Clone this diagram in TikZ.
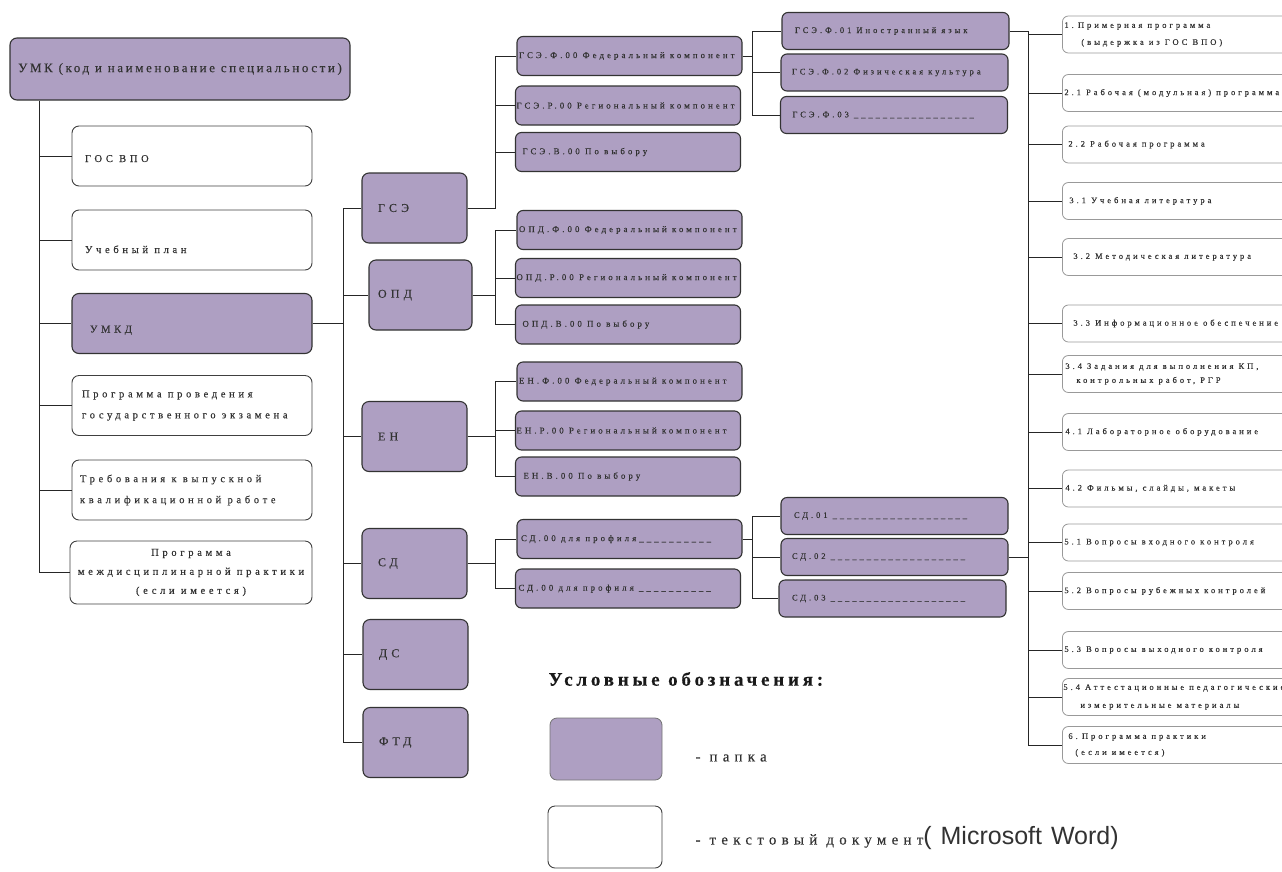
\documentclass[tikz,border=0pt]{standalone}
\usepackage{fontspec}
\setmainfont{Liberation Serif}
\newfontfamily\spaced{Liberation Serif}[LetterSpace=35,FakeBold=0.3]
\newfontfamily\spacedumk{Liberation Serif}[LetterSpace=20,FakeBold=0.3]
\newfontfamily\wordfont{Liberation Sans}
\usetikzlibrary{positioning,backgrounds}
\definecolor{papka}{RGB}{174,159,194}
\definecolor{ink}{RGB}{50,50,50}
\newcommand{\fsz}[2]{\fontsize{#1}{#2}\selectfont}

\begin{document}
\begin{tikzpicture}[x=1pt,y=-1pt]
\tikzstyle{every node}=[text=ink, inner ysep=0pt, execute at begin node={\spaceskip=\fontdimen2\font\relax}]
\tikzstyle{folder}=[draw=black!80, fill=papka, line width=1.1pt, rounded corners=7pt]
\tikzstyle{doc}=[draw=black!75, fill=white, line width=0.9pt, rounded corners=7pt]
\tikzstyle{link}=[draw=black!85, line width=1pt]
\tikzstyle{lbox}=[minimum height=60, text width=214, inner xsep=13, align=left, font=\spaced\fsz{10.5}{21}]
\tikzstyle{mbox}=[folder, minimum height=70, text width=73, inner xsep=16, align=left, font=\spaced\fsz{12}{14}]
\tikzstyle{sbox}=[folder, rounded corners=6pt, minimum height=39, text width=223, inner xsep=1, align=left, font=\spaced\fsz{8.8}{10}]
\tikzstyle{tbox}=[folder, rounded corners=6pt, minimum height=37, text width=201, inner xsep=13, align=left, font=\spaced\fsz{8.5}{10}]
\tikzstyle{rdoc}=[draw=black!40, line width=0.8pt, rounded corners=6pt, anchor=west, minimum height=37, text width=250, inner xsep=2, align=left, font=\spaced\fsz{8.5}{16}]
\useasboundingbox (0,0) rectangle (1282,871);
\clip (0,0) rectangle (1282,871);

% left column
\node[folder, minimum width=340, minimum height=62, font=\spacedumk\fsz{13}{15}] (umk) at (180,69) {УМК (код и наименование специальности)};
\node[doc, lbox] (gos) at (192,156) {\raisebox{-6pt}[0pt][0pt]{ГОС ВПО}};
\node[doc, lbox] (plan) at (192,240) {\raisebox{-13pt}[0pt][0pt]{Учебный план}};
\node[folder, lbox, inner xsep=18, text width=204] (umkd) at (192,323.5) {\raisebox{-9pt}[0pt][0pt]{УМКД}};
\node[doc, lbox, inner xsep=10, text width=220] (prog) at (192,405.5) {Программа проведения\\государственного экзамена};
\node[doc, lbox, inner xsep=8, text width=224] (treb) at (192,490) {Требования к выпускной\\квалификационной работе};
\node[doc, lbox, align=center, inner xsep=1, text width=240, minimum height=63, font=\spaced\fsz{10.5}{19}] (mezh) at (191,572.5) {Программа\\междисциплинарной практики\\(если имеется)};

% cycles
\node[mbox] (gse) at (414.5,208) {ГСЭ};
\node[mbox, inner xsep=9, text width=85] (opd) at (420.5,295) {ОПД};
\node[mbox] (en) at (414.5,436.5) {ЕН};
\node[mbox] (sd) at (414.5,563.5) {СД};
\node[mbox] (ds) at (415.5,654.5) {ДС};
\node[mbox] (ftd) at (415.5,742.5) {ФТД};

% components
\node[sbox, inner xsep=2, text width=221] (gsef) at (629.5,56) {ГСЭ.Ф.00 Федеральный компонент};
\node[sbox] (gser) at (628,105.5) {ГСЭ.Р.00 Региональный компонент};
\node[sbox, inner xsep=7, text width=211] (gsev) at (628,152) {ГСЭ.В.00 По выбору};
\node[sbox, inner xsep=2, text width=221] (opdf) at (629.5,230) {ОПД.Ф.00 Федеральный компонент};
\node[sbox] (opdr) at (628,278) {ОПД.Р.00 Региональный компонент};
\node[sbox, inner xsep=7, text width=211] (opdv) at (628,324.5) {ОПД.В.00 По выбору};
\node[sbox, inner xsep=2, text width=221] (enf) at (629.5,381.5) {ЕН.Ф.00 Федеральный компонент};
\node[sbox] (enr) at (628,430.5) {ЕН.Р.00 Региональный компонент};
\node[sbox, inner xsep=8, text width=209] (env) at (628,476.5) {ЕН.В.00 По выбору};
\node[sbox, inner xsep=4, text width=217] (sdp1) at (629.5,539) {СД.00 для профиля\_\_\_\_\_\_\_\_\_\_};
\node[sbox, inner xsep=3, text width=219] (sdp2) at (628,588.5) {СД.00 для профиля \_\_\_\_\_\_\_\_\_\_};

% disciplines
\node[tbox] (gsef1) at (895.5,31) {ГСЭ.Ф.01 Иностранный язык};
\node[tbox, inner xsep=11, text width=205] (gsef2) at (894.5,72.5) {ГСЭ.Ф.02 Физическая культура};
\node[tbox, inner xsep=12, text width=203] (gsef3) at (894,115) {ГСЭ.Ф.03 \_\_\_\_\_\_\_\_\_\_\_\_\_\_\_\_\_};
\node[tbox] (sd1) at (894.5,516) {СД.01 \_\_\_\_\_\_\_\_\_\_\_\_\_\_\_\_\_\_\_};
\node[tbox, inner xsep=11, text width=205] (sd2) at (894.5,557) {СД.02 \_\_\_\_\_\_\_\_\_\_\_\_\_\_\_\_\_\_\_};
\node[tbox] (sd3) at (892.5,598.5) {СД.03 \_\_\_\_\_\_\_\_\_\_\_\_\_\_\_\_\_\_\_};

% documents of a discipline
\node[rdoc, font=\spaced\fsz{8.5}{17}] (r1) at (1062,34.5) {1. Примерная программа\\\hspace*{17pt}(выдержка из ГОС ВПО)};
\node[rdoc] (r21) at (1062,93) {2.1 Рабочая (модульная) программа};
\node[rdoc, inner xsep=6] (r22) at (1062,144.5) {2.2 Рабочая программа};
\node[rdoc, inner xsep=7] (r31) at (1062,201) {3.1 Учебная литература};
\node[rdoc, inner xsep=11] (r32) at (1062,257) {3.2 Методическая литература};
\node[rdoc, inner xsep=11] (r33) at (1062,323.5) {3.3 Информационное обеспечение};
\node[rdoc, inner xsep=3, font=\spaced\fsz{8.5}{14}] (r34) at (1062,374) {3.4 Задания для выполнения КП,\\\hspace*{11pt}контрольных работ, РГР};
\node[rdoc, inner xsep=3] (r41) at (1062,432) {4.1 Лабораторное оборудование};
\node[rdoc, inner xsep=3] (r42) at (1062,488.5) {4.2 Фильмы, слайды, макеты};
\node[rdoc] (r51) at (1062,542.5) {5.1 Вопросы входного контроля};
\node[rdoc] (r52) at (1062,591) {5.2 Вопросы рубежных контролей};
\node[rdoc] (r53) at (1062,650) {5.3 Вопросы выходного контроля};
\node[rdoc, inner xsep=1, font=\spaced\fsz{8.5}{18}] (r54) at (1062,697) {5.4 Аттестационные педагогические\\\hspace*{17pt}измерительные материалы};
\node[rdoc, inner xsep=6] (r6) at (1062,745) {6. Программа практики\\\hspace*{7pt}(если имеется)};

% legend
\node[anchor=west, text=black!90, font=\spacedumk\bfseries\fsz{19}{21}] (legtitle) at (545,679) {Условные обозначения:};
\node[folder, draw=black!55, line width=0.8pt, minimum width=112, minimum height=62] (legfolder) at (606,749) {};
\node[anchor=west, font=\spaced\fsz{15}{17}] (legfoldertxt) at (692,758) {- папка};
\node[doc, minimum width=114, minimum height=62] (legdoc) at (605,837) {};
\node[anchor=west, font=\spaced\fsz{15}{17}] (legdoctxt) at (692,838) {- текстовый документ{\wordfont\fsz{25}{27}( Microsoft Word)}};

% connectors
\coordinate (trunkA) at ([xshift=30]umk.south west);
\draw[link] (trunkA) |- (mezh.west);
\foreach \n in {gos,plan,umkd,prog,treb}
  \draw[link] (trunkA |- \n.west) -- (\n.west);

\coordinate (trunkB) at (343,0);
\draw[link] (umkd.east) -- (umkd.east -| trunkB);
\draw[link] (trunkB |- gse.west) -- (trunkB |- ftd.west);
\foreach \n in {gse,opd,en,sd,ds,ftd}
  \draw[link] (trunkB |- \n.west) -- (\n.west);

\coordinate (colV) at (495,0);
\foreach \p/\k in {gse/gsef,gse/gser,gse/gsev,opd/opdf,opd/opdr,opd/opdv,en/enf,en/enr,en/env,sd/sdp1,sd/sdp2}
  \draw[link] (\p.east) -- (\p.east -| colV) |- (\k.west);

\coordinate (colW) at (752,0);
\foreach \p/\k in {gsef/gsef1,gsef/gsef2,gsef/gsef3,sdp1/sd1,sdp1/sd2,sdp1/sd3}
  \draw[link] (\p.east) -- (\p.east -| colW) |- (\k.west);

\coordinate (colR) at (1028,0);
\draw[link] (gsef1.east) -- (gsef1.east -| colR) |- (r6.west);
\draw[link] (sd2.east) -- (sd2.east -| colR);
\foreach \n in {r1,r21,r22,r31,r32,r33,r34,r41,r42,r51,r52,r53,r54}
  \draw[link] (colR |- \n.west) -- (\n.west);
\end{tikzpicture}
\end{document}
